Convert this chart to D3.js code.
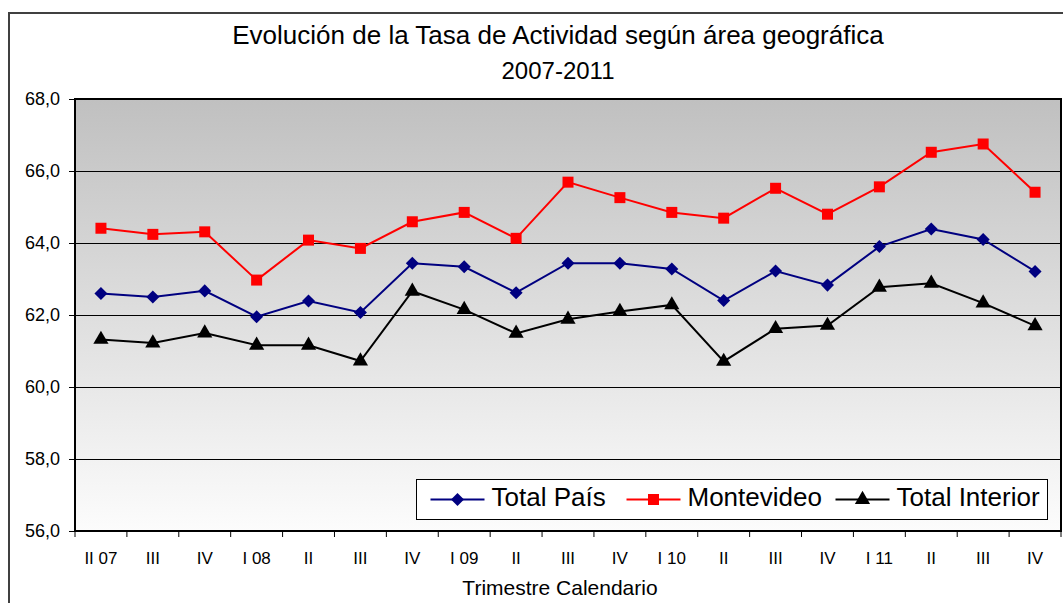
<!DOCTYPE html>
<html>
<head>
<meta charset="utf-8">
<script src="https://cdn.jsdelivr.net/npm/d3@7"></script>
<style>
  body { margin: 0; background: #fff; }
  text { font-family: "Liberation Sans", Arial, sans-serif; fill: #000; }
</style>
</head>
<body>
<svg id="chart"></svg>
<script>
const width = 1063;
const height = 603;

// quarters, Q2 2007 .. Q4 2011
const quarters = ["II 07", "III", "IV", "I 08", "II", "III", "IV", "I 09", "II", "III",
  "IV", "I 10", "II", "III", "IV", "I 11", "II", "III", "IV"];

const totalPais = [62.6, 62.5, 62.67, 61.95, 62.39, 62.07, 63.44, 63.34, 62.62, 63.44,
  63.44, 63.28, 62.4, 63.22, 62.83, 63.9, 64.39, 64.1, 63.21];
const montevideo = [64.41, 64.24, 64.31, 62.97, 64.08, 63.85, 64.59, 64.85, 64.13, 65.69,
  65.26, 64.85, 64.69, 65.52, 64.8, 65.56, 66.52, 66.75, 65.41];
const totalInterior = [61.32, 61.22, 61.5, 61.16, 61.16, 60.72, 62.66, 62.15, 61.49, 61.88,
  62.1, 62.28, 60.71, 61.62, 61.71, 62.77, 62.88, 62.33, 61.7];

const yTicks = [56, 58, 60, 62, 64, 66, 68];

// diamond = square turned 45 degrees
const series = [
  { name: "Total País", values: totalPais, color: "#000080", symbol: d3.symbolSquare, size: 85, rotate: 45 },
  { name: "Montevideo", values: montevideo, color: "#ff0000", symbol: d3.symbolSquare, size: 121, rotate: 0 },
  { name: "Total Interior", values: totalInterior, color: "#000000", symbol: d3.symbolTriangle, size: 100, rotate: 0 }
];

const margin = { left: 75, top: 99, right: 2, bottom: 72 };
const plotW = width - margin.left - margin.right;
const plotH = height - margin.top - margin.bottom;

const svg = d3.select("#chart").attr("width", width).attr("height", height);

// outer chart frame
svg.append("path")
  .attr("d", `M9,${height} V13 H${width}`)
  .attr("fill", "none")
  .attr("stroke", "#404040")
  .attr("stroke-width", 2);

// background gradient
const defs = svg.append("defs");
const grad = defs.append("linearGradient")
  .attr("id", "bg").attr("x1", 0).attr("y1", 0).attr("x2", 0).attr("y2", 1);
grad.append("stop").attr("offset", "0%").attr("stop-color", "#c0c0c0");
grad.append("stop").attr("offset", "100%").attr("stop-color", "#fcfcfc");

const g = svg.append("g").attr("transform", `translate(${margin.left},${margin.top})`);

const x = d3.scaleBand().domain(d3.range(quarters.length)).range([0, plotW]);
const y = d3.scaleLinear().domain([56, 68]).range([plotH, 0]);

g.append("rect")
  .attr("width", plotW).attr("height", plotH)
  .attr("fill", "url(#bg)");

// gridlines
g.selectAll(".grid")
  .data(yTicks.filter(d => d > 56 && d < 68))
  .join("line")
  .attr("x1", 0).attr("x2", plotW)
  .attr("y1", d => y(d) + 0.5).attr("y2", d => y(d) + 0.5)
  .attr("stroke", "#000").attr("stroke-width", 1);

// y axis
const yAxis = g.append("g")
  .call(d3.axisLeft(y).tickValues(yTicks).tickSize(6).tickPadding(9)
    .tickFormat(d => d3.format(".1f")(d).replace(".", ",")));
yAxis.select(".domain").remove();
yAxis.selectAll("line").attr("stroke", "#000");
yAxis.selectAll("text").style("font-size", "18px").style("font-family", "Liberation Sans, Arial");

// x axis ticks at category boundaries
const bounds = d3.range(quarters.length + 1).map(i => i * x.step());
g.selectAll(".xtick")
  .data(bounds)
  .join("line")
  .attr("x1", d => d).attr("x2", d => d)
  .attr("y1", plotH).attr("y2", plotH + 6)
  .attr("stroke", "#000");

g.selectAll(".xlabel")
  .data(quarters)
  .join("text")
  .attr("x", (d, i) => x(i) + x.bandwidth() / 2)
  .attr("y", plotH + 33)
  .attr("text-anchor", "middle")
  .style("font-size", "17px")
  .text(d => d);

// plot frame
g.append("rect")
  .attr("width", plotW).attr("height", plotH)
  .attr("fill", "none").attr("stroke", "#000").attr("stroke-width", 2);

// lines and markers
const line = d3.line()
  .x((d, i) => x(i) + x.bandwidth() / 2)
  .y(d => y(d));

series.forEach(s => {
  g.append("path")
    .datum(s.values)
    .attr("d", line)
    .attr("fill", "none")
    .attr("stroke", s.color)
    .attr("stroke-width", 2);
  g.selectAll(null)
    .data(s.values)
    .join("path")
    .attr("transform", (d, i) => `translate(${x(i) + x.bandwidth() / 2},${y(d)}) rotate(${s.rotate})`)
    .attr("d", d3.symbol().type(s.symbol).size(s.size))
    .attr("fill", s.color);
});

// legend
const legend = svg.append("g").attr("transform", "translate(416.5,479.5)");
legend.append("rect")
  .attr("width", 631).attr("height", 40)
  .attr("fill", "#fff").attr("stroke", "#000").attr("stroke-width", 1);
const legendX = [14, 210, 419];
series.forEach((s, i) => {
  const item = legend.append("g").attr("transform", `translate(${legendX[i]},20)`);
  item.append("line").attr("x1", 0).attr("x2", 54).attr("stroke", s.color).attr("stroke-width", 2);
  item.append("path")
    .attr("transform", `translate(27,0) rotate(${s.rotate})`)
    .attr("d", d3.symbol().type(s.symbol).size(s.size))
    .attr("fill", s.color);
  item.append("text")
    .attr("x", 61).attr("y", 6)
    .style("font-size", "26px")
    .text(s.name);
});

// titles
svg.append("text")
  .attr("x", 558).attr("y", 44)
  .attr("text-anchor", "middle")
  .style("font-size", "26px")
  .text("Evolución de la Tasa de Actividad según área geográfica");
svg.append("text")
  .attr("x", 558).attr("y", 79)
  .attr("text-anchor", "middle")
  .style("font-size", "24px")
  .text("2007-2011");
svg.append("text")
  .attr("x", 560).attr("y", 595)
  .attr("text-anchor", "middle")
  .style("font-size", "21px")
  .text("Trimestre Calendario");
</script>
</body>
</html>
